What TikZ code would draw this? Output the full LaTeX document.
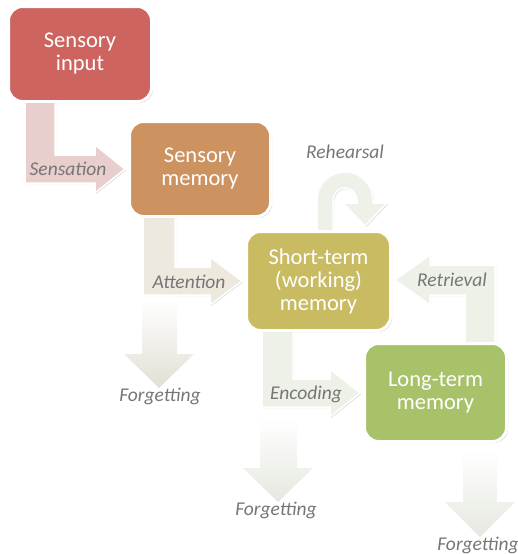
\documentclass[tikz,border=0pt]{standalone}
\usepackage{fontspec}
\setmainfont{Carlito}
\usetikzlibrary{positioning,shadows}
\definecolor{inputred}{RGB}{205,100,95}
\definecolor{sensbrown}{RGB}{204,146,96}
\definecolor{stmolive}{RGB}{201,187,98}
\definecolor{ltmgreen}{RGB}{168,194,106}
\definecolor{sensflow}{RGB}{233,206,206}
\definecolor{attnflow}{RGB}{237,233,222}
\definecolor{stmflow}{RGB}{238,241,232}
\definecolor{labelgray}{RGB}{118,118,118}

\begin{document}
\begin{tikzpicture}[x=1pt,y=-1pt,
  box/.style={draw=white, line width=3pt, rounded corners=14pt, text=white,
    align=center, inner sep=0pt, font=\fontsize{22.5}{23}\selectfont,
    drop shadow={shadow xshift=1.5pt, shadow yshift=-1.5pt, opacity=0.35}},
  flow/.style={draw=white, line width=1.5pt,
    drop shadow={shadow xshift=1.2pt, shadow yshift=-1.2pt, opacity=0.25}},
  lbl/.style={text=labelgray, font=\fontsize{19.5}{21}\selectfont\itshape}]
  \useasboundingbox (0,0) rectangle (518,554);
  % bent flows between the stores
  \filldraw[flow, fill=sensflow] (25,95) -- (25,183) -- (95,183) -- (95,193)
    -- (125,169) -- (95,145) -- (95,155) -- (55,155) -- (55,95) -- cycle;
  \filldraw[flow, fill=attnflow] (143,210) -- (143,295) -- (210,295) -- (210,305)
    -- (242,281) -- (210,257) -- (210,267) -- (175,267) -- (175,210) -- cycle;
  \filldraw[flow, fill=stmflow] (262,325) -- (262,407) -- (330,407) -- (330,417)
    -- (360,393) -- (330,369) -- (330,379) -- (293,379) -- (293,325) -- cycle;
  \filldraw[flow, fill=stmflow] (495,360) -- (495,265) -- (430,265) -- (430,255)
    -- (395,280) -- (430,305) -- (430,295) -- (465,295) -- (465,360) -- cycle;
  % rehearsal loop
  \filldraw[flow, fill=stmflow] (317,240) -- (317,200)
    arc[start angle=180, end angle=360, radius=28] -- (373,203) -- (387,203)
    -- (365,226) -- (343,203) -- (357,203) -- (357,200)
    arc[start angle=0, end angle=-180, radius=12] -- (333,240) -- cycle;
  % forgetting (fading)
  \shade[top color=white, bottom color=attnflow!90!gray] (142,300) -- (142,354)
    -- (124,354) -- (159,388) -- (194,354) -- (177,354) -- (177,300) -- cycle;
  \shade[top color=white, bottom color=stmflow!92!gray] (260,418) -- (260,468)
    -- (243,468) -- (278,502) -- (313,468) -- (297,468) -- (297,418) -- cycle;
  \shade[top color=white, bottom color=stmflow!92!gray] (463,450) -- (463,502)
    -- (445,502) -- (480,537) -- (515,502) -- (497,502) -- (497,450) -- cycle;
  % stores
  \node[box, fill=inputred, minimum width=143pt, minimum height=95pt] (input)
    at (80,54) {Sensory\\input};
  \node[box, fill=sensbrown, minimum width=141pt, minimum height=95pt] (sensory)
    at (200,169) {Sensory\\memory};
  \node[box, fill=stmolive, minimum width=144pt, minimum height=99pt] (shortterm)
    at (318.5,281) {Short-term\\(working)\\memory};
  \node[box, fill=ltmgreen, minimum width=142pt, minimum height=98pt] (longterm)
    at (435.5,392.5) {Long-term\\memory};
  % labels
  \node[lbl] (sensation) at (68,169) {Sensation};
  \node[lbl] (attention) at (189,282) {Attention};
  \node[lbl] (encoding) at (306,394) {Encoding};
  \node[lbl] (retrieval) at (452,280) {Retrieval};
  \node[lbl] (rehearsal) at (345,152) {Rehearsal};
  \node[lbl] (forget1) at (160,396) {Forgetting};
  \node[lbl] (forget2) at (276,510) {Forgetting};
  \node[lbl] (forget3) at (478,545) {Forgetting};
\end{tikzpicture}
\end{document}
